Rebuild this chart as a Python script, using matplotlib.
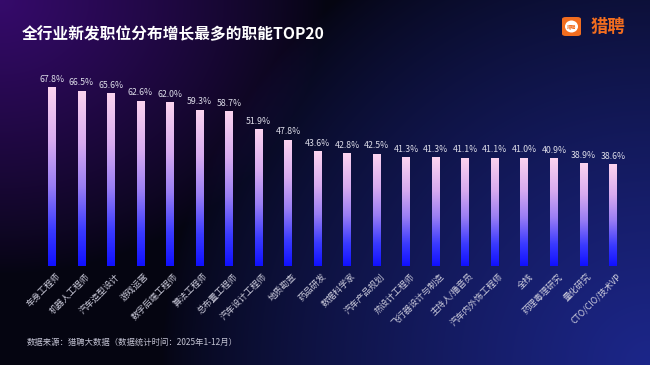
import numpy as np
import matplotlib
matplotlib.use("Agg")
import matplotlib.pyplot as plt
from matplotlib.colors import LinearSegmentedColormap
from matplotlib.patches import FancyBboxPatch, Ellipse

plt.rcParams['font.family'] = ['Noto Sans CJK SC', 'DejaVu Sans']

# 数据
jobs = ["车身工程师", "机器人工程师", "汽车造型设计", "游戏运营", "数字后端工程师",
        "算法工程师", "总布置工程师", "汽车设计工程师", "地质勘查", "药品研发",
        "数据科学家", "汽车产品规划", "热设计工程师", "飞行器设计与制造", "主持人/播音员",
        "汽车内外饰工程师", "全栈", "药理毒理研究", "量化研究", "CTO/CIO/技术VP"]
growth = [67.8, 66.5, 65.6, 62.6, 62.0, 59.3, 58.7, 51.9, 47.8, 43.6,
          42.8, 42.5, 41.3, 41.3, 41.1, 41.1, 41.0, 40.9, 38.9, 38.6]

W, H = 650, 365
fig = plt.figure(figsize=(W / 100, H / 100), dpi=100)

# sfondo sfumato (viola in alto a sinistra, blu in basso a destra)
bg = fig.add_axes([0, 0, 1, 1])
uu, vv = np.meshgrid(np.linspace(0, 1, W), np.linspace(0, 1, H))
wp = np.clip(1 - np.sqrt((uu / 0.5) ** 2 + (vv / 0.75) ** 2), 0, 1) ** 0.85
wb = np.clip(1 - np.sqrt(((1 - uu) / 0.75) ** 2 + ((1 - vv) / 1.3) ** 2), 0, 1) ** 0.75
base = np.array([0.02, 0.02, 0.07])
purple = np.array([0.21, 0.04, 0.42])
blue = np.array([0.11, 0.15, 0.54])
img = base + wp[..., None] * (purple - base) + wb[..., None] * (blue - base)
bg.imshow(np.clip(img, 0, 1), aspect='auto', extent=[0, 1, 0, 1], origin='upper')
bg.set_xlim(0, 1)
bg.set_ylim(0, 1)
bg.axis('off')

# titolo e logo
fig.text(22 / W, 1 - 34 / H, "全行业新发职位分布增长最多的职能TOP20", color='white',
         fontsize=11.3, fontweight='bold', va='center', ha='left')
orange = '#f26d1f'
bg.add_patch(FancyBboxPatch((562 / W, 1 - 36 / H), 19 / W, 19 / H,
                            boxstyle="round,pad=0,rounding_size=0.006",
                            transform=bg.transAxes, fc=orange, ec='none'))
bg.add_patch(Ellipse((571.5 / W, 1 - 26.5 / H), 13 / W, 12 / H, transform=bg.transAxes,
                     fc='white', ec='none'))
fig.text(571.5 / W, 1 - 26.5 / H, "猎聘", color=orange, fontsize=3.4, fontweight='bold',
         ha='center', va='center')
fig.text(591 / W, 1 - 27 / H, "猎聘", color=orange, fontsize=12.5, fontweight='bold',
         ha='left', va='center')

# grafico a barre
ax = fig.add_axes([37.2 / W, 99 / H, 590.6 / W, 211 / H])
ax.patch.set_alpha(0)
x = np.arange(len(jobs))
bars = ax.bar(x, growth, width=0.27, color='none', edgecolor='none')

bar_cmap = LinearSegmentedColormap.from_list(
    "barra", [(0.0, '#1010ff'), (0.2, '#3a3aff'), (0.45, '#9a7ef4'),
              (0.7, '#d8abef'), (1.0, '#fcd4ef')])
grad = np.linspace(1, 0, 256).reshape(-1, 1)
for b in bars:
    x0, y0 = b.get_x(), b.get_y()
    im = ax.imshow(grad, cmap=bar_cmap, aspect='auto', origin='upper',
                   extent=[x0, x0 + b.get_width(), y0, y0 + b.get_height()])
    im.set_clip_path(b)

for i, v in enumerate(growth):
    ax.text(i, v + 1.3, f"{v:.1f}%", ha='center', va='bottom', color='#dcdce8', fontsize=6.3)
    ax.text(i + 0.12, -2.2, jobs[i], ha='right', va='top', rotation=45,
            rotation_mode='anchor', color='#cdcddd', fontsize=6.3)

ax.set_xlim(-0.5, len(jobs) - 0.5)
ax.set_ylim(0, 80)
ax.axis('off')

fig.text(27 / W, 1 - 342 / H, "数据来源：猎聘大数据（数据统计时间：2025年1-12月）",
         color='#c4c4d4', fontsize=6.0, ha='left', va='center')

plt.savefig("out.png", dpi=100)
